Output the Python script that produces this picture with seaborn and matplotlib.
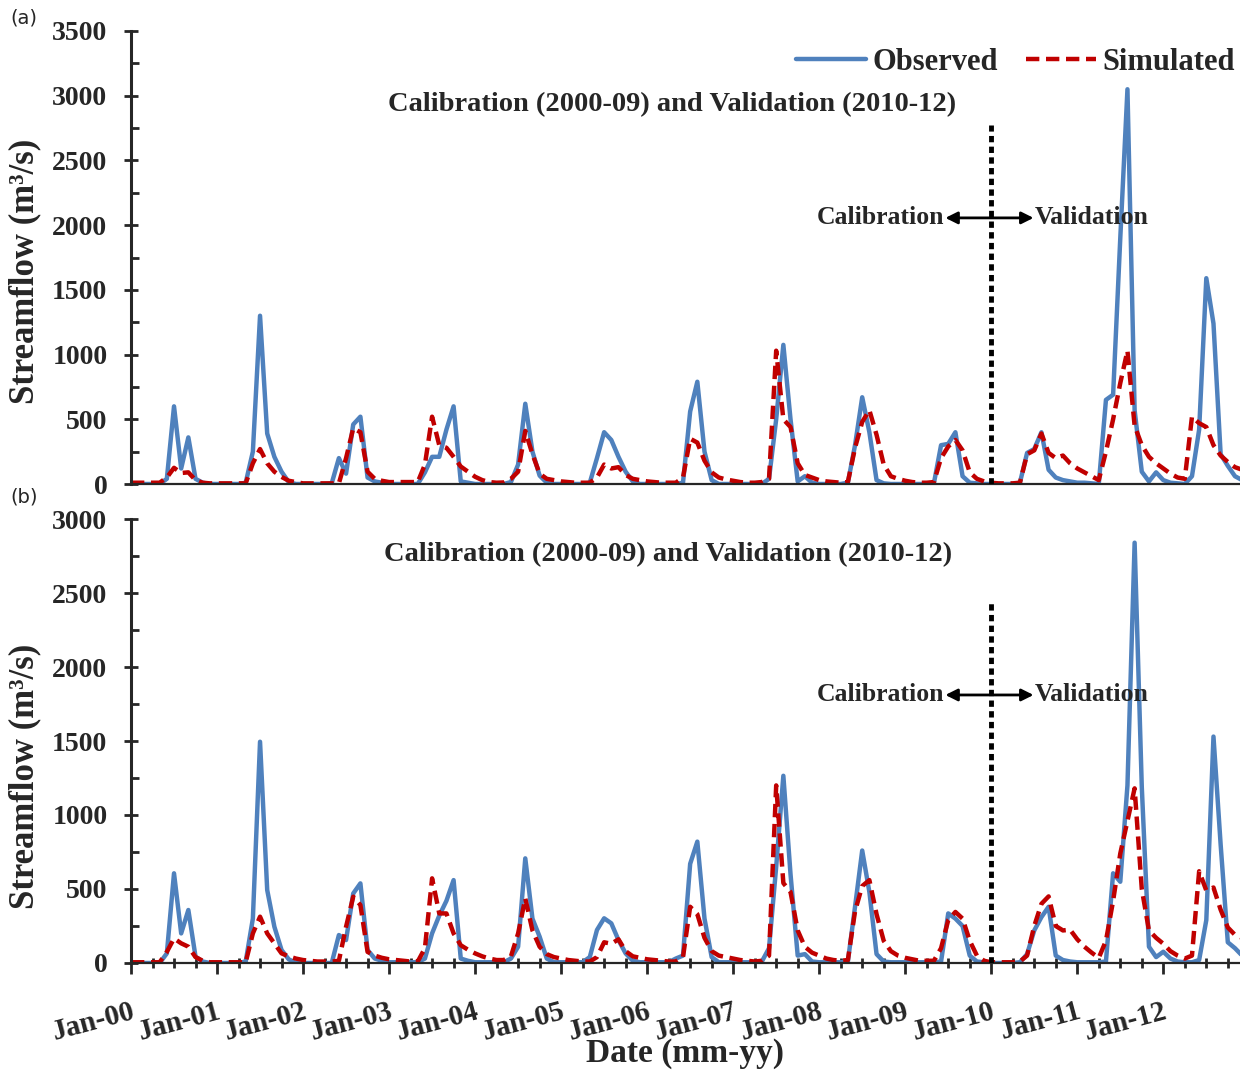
import numpy as np
import pandas as pd
import matplotlib
matplotlib.use("Agg")
import matplotlib.pyplot as plt
import seaborn as sns
from matplotlib.ticker import MultipleLocator

# monthly streamflow (m3/s), Jan 2000 .. Dec 2012, 12 values per row = one year
obs_a = [0, 0, 0, 0, 0, 40, 600, 120, 360, 40, 10, 0,
         0, 0, 0, 0, 10, 250, 1300, 390, 210, 95, 15, 0,
         0, 0, 0, 0, 5, 200, 80, 460, 520, 50, 20, 10,
         0, 0, 0, 0, 0, 90, 210, 210, 420, 600, 20, 10,
         0, 0, 0, 0, 0, 15, 150, 620, 250, 65, 10, 0,
         0, 0, 0, 0, 10, 200, 400, 340, 210, 95, 20, 0,
         0, 0, 0, 0, 0, 10, 560, 790, 250, 30, 0, 0,
         0, 0, 0, 0, 0, 40, 500, 1075, 500, 20, 60, 10,
         0, 0, 0, 0, 10, 300, 670, 400, 30, 5, 0, 0,
         0, 0, 0, 0, 5, 300, 310, 400, 60, 10, 5, 0,
         0, 0, 0, 0, 10, 240, 270, 400, 110, 50, 30, 20,
         10, 10, 5, 0, 650, 690, 1900, 3050, 570, 95, 20, 90,
         30, 10, 5, 0, 60, 420, 1590, 1240, 230, 140, 60, 30]
sim_a = [10, 10, 10, 10, 10, 50, 125, 85, 90, 30, 10, 5,
         5, 5, 5, 5, 5, 160, 270, 160, 95, 55, 25, 15,
         5, 5, 5, 5, 5, 5, 200, 430, 400, 95, 40, 25,
         15, 15, 15, 15, 15, 150, 520, 300, 280, 210, 135, 95,
         56, 30, 15, 10, 12, 40, 95, 410, 230, 80, 40, 30,
         20, 15, 10, 10, 10, 50, 150, 120, 130, 70, 40, 30,
         20, 15, 10, 10, 10, 50, 350, 320, 180, 90, 50, 35,
         25, 15, 10, 10, 15, 40, 1030, 500, 440, 160, 70, 50,
         30, 20, 15, 10, 15, 280, 480, 570, 380, 150, 60, 40,
         25, 15, 10, 10, 15, 200, 290, 340, 260, 90, 40, 20,
         10, 5, 5, 5, 10, 230, 260, 390, 240, 200, 220, 160,
         120, 90, 60, 30, 250, 500, 780, 1030, 450, 300, 210, 160,
         120, 80, 50, 40, 520, 470, 440, 300, 220, 170, 130, 110]
obs_b = [0, 0, 0, 0, 0, 65, 606, 200, 358, 43, 10, 0,
         0, 0, 0, 0, 10, 300, 1495, 493, 245, 88, 25, 0,
         0, 0, 0, 0, 0, 189, 155, 470, 538, 88, 30, 15,
         5, 5, 5, 5, 5, 30, 200, 320, 420, 560, 30, 15,
         5, 5, 5, 5, 5, 30, 110, 707, 300, 178, 30, 5,
         5, 5, 5, 5, 40, 223, 302, 268, 155, 65, 15, 5,
         5, 5, 5, 5, 30, 50, 670, 820, 300, 40, 5, 5,
         5, 5, 5, 5, 10, 100, 650, 1265, 600, 50, 60, 10,
         5, 5, 5, 5, 10, 380, 760, 480, 60, 10, 5, 5,
         5, 5, 5, 5, 5, 10, 335, 300, 250, 50, 10, 5,
         0, 0, 0, 0, 5, 60, 220, 310, 380, 50, 20, 10,
         5, 5, 5, 5, 10, 606, 549, 1200, 2840, 1190, 110, 40,
         76, 30, 10, 5, 5, 20, 290, 1530, 800, 140, 100, 50]
sim_b = [5, 5, 5, 5, 5, 75, 166, 133, 110, 40, 15, 5,
         5, 5, 5, 5, 5, 200, 313, 200, 133, 65, 45, 30,
         20, 15, 10, 10, 10, 15, 245, 448, 392, 75, 50, 35,
         25, 20, 15, 10, 10, 100, 572, 335, 335, 200, 120, 90,
         65, 45, 30, 20, 20, 45, 200, 437, 220, 110, 60, 40,
         30, 20, 15, 10, 10, 40, 140, 130, 160, 80, 45, 35,
         25, 20, 15, 10, 10, 40, 380, 330, 170, 80, 50, 40,
         30, 20, 15, 10, 15, 50, 1200, 540, 480, 220, 110, 70,
         50, 30, 20, 15, 20, 350, 520, 560, 330, 150, 80, 50,
         35, 25, 15, 15, 15, 100, 290, 345, 300, 150, 50, 15,
         5, 5, 5, 5, 10, 50, 250, 400, 450, 250, 220, 225,
         160, 110, 70, 35, 150, 420, 740, 960, 1180, 500, 220, 170,
         130, 80, 50, 30, 50, 620, 490, 510, 360, 240, 190, 170]
tick_labels = ['Jan-00', 'Jan-01', 'Jan-02', 'Jan-03', 'Jan-04', 'Jan-05', 'Jan-06',
               'Jan-07', 'Jan-08', 'Jan-09', 'Jan-10', 'Jan-11', 'Jan-12']

df = pd.DataFrame({'month': np.arange(len(obs_a)),
                   'obs_a': obs_a, 'sim_a': sim_a, 'obs_b': obs_b, 'sim_b': sim_b})

sns.set_style("ticks")
plt.rcParams['font.family'] = ['Liberation Serif', 'DejaVu Serif']
plt.rcParams['font.weight'] = 'bold'
plt.rcParams['axes.labelweight'] = 'bold'

BLUE = '#4F81BD'
RED = '#C00000'
W, H = 1240, 1071

fig = plt.figure(figsize=(W / 100, H / 100), dpi=100)
ax_a = fig.add_axes([131 / W, 1 - 484 / H, 1 - 131 / W, (484 - 31) / H])
ax_b = fig.add_axes([131 / W, 1 - 963 / H, 1 - 131 / W, (963 - 519) / H])

# panel settings: axes, series, y max, dotted line top, arrow height, title pos
panels = [(ax_a, 'obs_a', 'sim_a', 3500, 2775, 2056, (0.488, 0.837), 0.47),
          (ax_b, 'obs_b', 'sim_b', 3000, 2432, 1811, (0.484, 0.919), 0.42)]

for ax, obs, sim, ymax, vtop, yarr, tpos, ylab in panels:
    sns.lineplot(data=df, x='month', y=obs, ax=ax, color=BLUE, lw=3.2,
                 label='Observed')
    sns.lineplot(data=df, x='month', y=sim, ax=ax, color=RED, lw=3.2,
                 linestyle=(0, (3.0, 1.5)), label='Simulated')
    ax.set_xlim(0, 154.7)
    ax.set_ylim(0, ymax)
    ax.yaxis.set_major_locator(MultipleLocator(500))
    ax.yaxis.set_minor_locator(MultipleLocator(250))
    ax.tick_params(axis='y', which='major', direction='inout', length=10,
                   width=2, labelsize=20, pad=12)
    ax.tick_params(axis='y', which='minor', direction='in', length=6, width=2)
    for s in ['top', 'right']:
        ax.spines[s].set_visible(False)
    ax.spines['left'].set_linewidth(2.2)
    ax.spines['bottom'].set_linewidth(1.6)
    ax.set_ylabel('Streamflow (m³/s)', fontsize=25)
    ax.yaxis.set_label_coords(-0.081, ylab)

    # calibration / validation split
    ax.plot([120, 120], [0, vtop], color='black', lw=3.5,
            linestyle=(0, (1.3, 0.9)), zorder=5)
    ax.annotate('', xy=(113.6, yarr), xytext=(125.9, yarr),
                arrowprops=dict(arrowstyle='<|-|>', color='black', lw=2,
                                mutation_scale=18, shrinkA=0, shrinkB=0))
    ax.text(113.4, yarr, 'Calibration', ha='right', va='center', fontsize=18.5)
    ax.text(126.1, yarr, 'Validation', ha='left', va='center', fontsize=18.5)
    ax.text(tpos[0], tpos[1], 'Calibration (2000-09) and Validation (2010-12)',
            transform=ax.transAxes, ha='center', va='center', fontsize=20.5)

ax_a.legend(loc='center right', bbox_to_anchor=(0.995, 0.931), ncol=2,
            frameon=False, fontsize=22, handlelength=2.3, handletextpad=0.2,
            columnspacing=0.9, borderpad=0, borderaxespad=0)
ax_b.get_legend().remove()

ax_a.set_xticks([])
ax_a.set_xlabel('')

ax_b.set_xticks(np.arange(0, 145, 12))
ax_b.set_xticklabels(tick_labels)
ax_b.xaxis.set_minor_locator(MultipleLocator(3))
ax_b.tick_params(axis='x', which='major', direction='out', length=8, width=2,
                 labelsize=21, pad=17)
ax_b.tick_params(axis='x', which='minor', direction='inout', length=7, width=2)
for lab in ax_b.get_xticklabels():
    lab.set_rotation(15)
    lab.set_ha('right')
    lab.set_rotation_mode('anchor')
ax_b.set_xlabel('Date (mm-yy)', fontsize=24)
ax_b.xaxis.set_label_coords(0.5, -0.168)

fig.text(0.008, 1 - 18 / H, '(a)', ha='left', va='center', fontsize=14,
         family='DejaVu Sans', fontweight='normal')
fig.text(0.008, 1 - 497 / H, '(b)', ha='left', va='center', fontsize=14,
         family='DejaVu Sans', fontweight='normal')

fig.savefig('out.png', dpi=100)
